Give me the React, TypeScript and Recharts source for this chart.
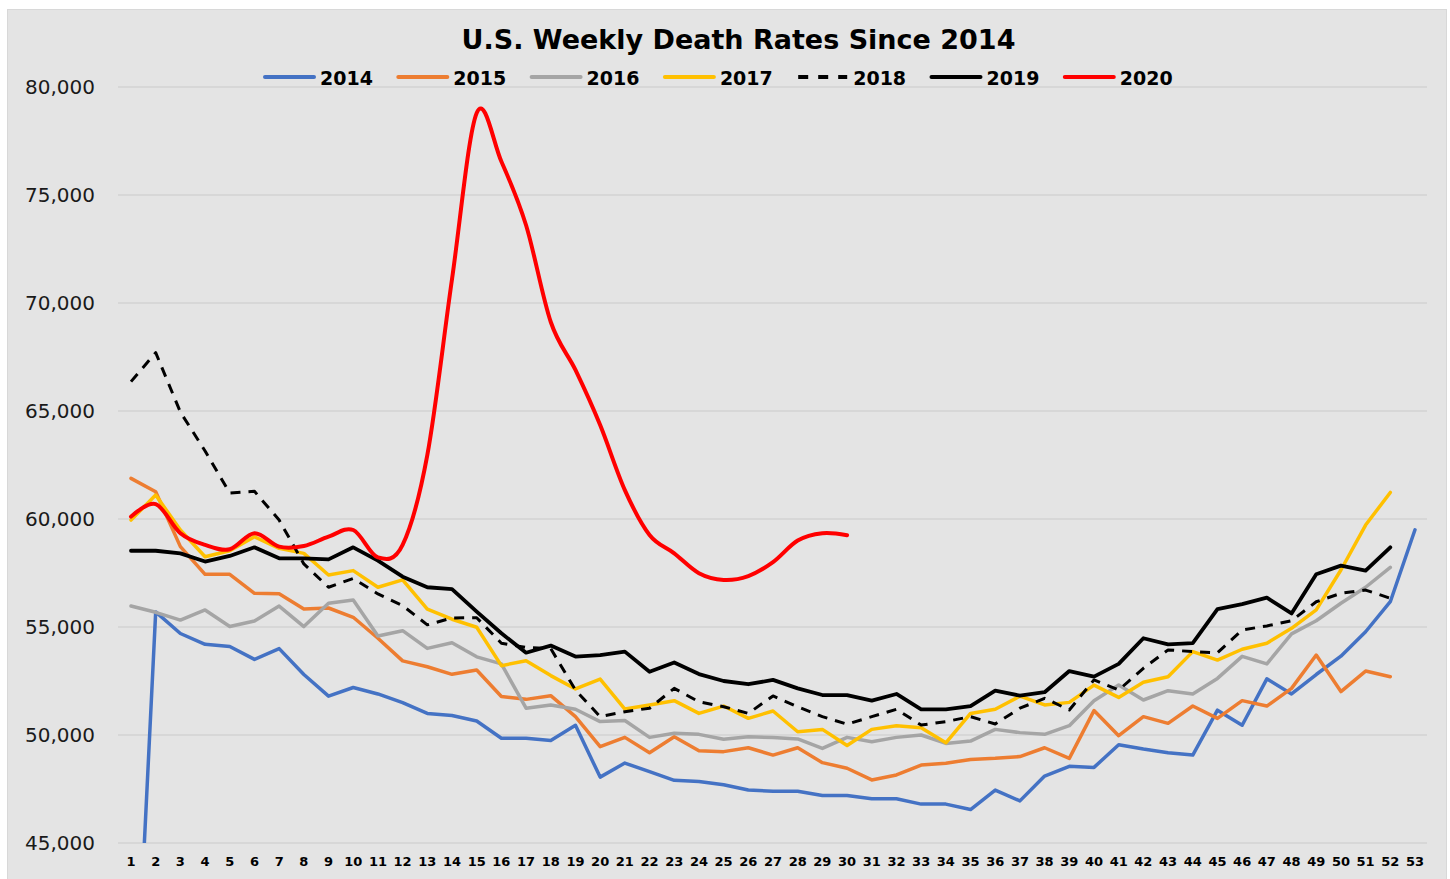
import React from "react";
import { LineChart, Line, XAxis, YAxis, CartesianGrid, Legend } from "recharts";

const weeks = ["1","2","3","4","5","6","7","8","9","10","11","12","13","14","15","16","17","18","19","20","21","22","23","24","25","26","27","28","29","30","31","32","33","34","35","36","37","38","39","40","41","42","43","44","45","46","47","48","49","50","51","52","53"];

const y2014 = [32400, 55700, 54700, 54200, 54100, 53500, 54000, 52800, 51800, 52200, 51900, 51500, 51000, 50900, 50650, 49850, 49850, 49750, 50450, 48050, 48700, 48300, 47900, 47850, 47700, 47450, 47400, 47400, 47200, 47200, 47050, 47050, 46800, 46800, 46550, 47450, 46950, 48100, 48550, 48500, 49550, 49350, 49180, 49070, 51150, 50450, 52600, 51900, 52800, 53650, 54780, 56170, 59500];
const y2015 = [61880, 61260, 58720, 57440, 57440, 56560, 56540, 55830, 55880, 55450, 54480, 53430, 53160, 52810, 53010, 51780, 51650, 51820, 50850, 49460, 49890, 49180, 49920, 49270, 49230, 49410, 49070, 49410, 48720, 48460, 47920, 48150, 48610, 48690, 48870, 48920, 49000, 49410, 48920, 51130, 49970, 50850, 50540, 51340, 50770, 51590, 51340, 52160, 53700, 52010, 52960, 52700, null];
const y2016 = [55970, 55680, 55320, 55790, 55020, 55280, 55970, 55020, 56100, 56250, 54580, 54830, 54010, 54270, 53620, 53290, 51240, 51390, 51190, 50620, 50670, 49890, 50080, 50030, 49800, 49920, 49880, 49820, 49380, 49890, 49690, 49890, 50000, 49610, 49720, 50260, 50110, 50030, 50430, 51590, 52310, 51620, 52050, 51900, 52620, 53640, 53290, 54680, 55290, 56100, 56840, 57760, null];
const y2017 = [59950, 61110, 59490, 58250, 58530, 59180, 58640, 58410, 57410, 57610, 56840, 57180, 55830, 55360, 54990, 53210, 53440, 52750, 52130, 52590, 51200, 51390, 51590, 51000, 51340, 50770, 51110, 50150, 50260, 49510, 50260, 50430, 50340, 49640, 51000, 51190, 51800, 51390, 51510, 52310, 51740, 52440, 52700, 53860, 53470, 53970, 54250, 54940, 55790, 57640, 59720, 61230, null];
const y2018 = [66360, 67700, 64950, 63150, 61200, 61280, 59950, 57920, 56840, 57250, 56530, 55990, 55100, 55420, 55430, 54250, 54050, 54000, 52080, 50850, 51080, 51240, 52160, 51540, 51310, 51000, 51810, 51310, 50850, 50500, 50850, 51190, 50460, 50620, 50850, 50510, 51240, 51700, 51160, 52550, 52080, 53090, 53940, 53860, 53810, 54860, 55050, 55290, 56170, 56560, 56710, 56330, null];
const y2019 = [58530, 58530, 58410, 58030, 58290, 58690, 58180, 58180, 58130, 58690, 58070, 57330, 56840, 56750, 55710, 54710, 53810, 54140, 53630, 53700, 53860, 52930, 53360, 52820, 52500, 52350, 52550, 52160, 51850, 51850, 51590, 51900, 51190, 51190, 51340, 52050, 51820, 51980, 52960, 52700, 53290, 54480, 54200, 54250, 55830, 56060, 56360, 55630, 57440, 57840, 57610, 58690, null];
const y2020 = [60110, 60690, 59340, 58800, 58600, 59340, 58720, 58750, 59180, 59490, 58220, 58800, 62960, 71100, 78800, 76550, 73600, 69120, 66900, 64350, 61340, 59260, 58410, 57490, 57180, 57360, 58000, 59000, 59340, 59250, null, null, null, null, null, null, null, null, null, null, null, null, null, null, null, null, null, null, null, null, null, null, null];

const yTicks = [45000, 50000, 55000, 60000, 65000, 70000, 75000, 80000];

const seriesNames = ["2014", "2015", "2016", "2017", "2018", "2019", "2020"];
const seriesValues = [y2014, y2015, y2016, y2017, y2018, y2019, y2020];
const seriesColors = ["#4472C4", "#ED7D31", "#A5A5A5", "#FFC000", "#000000", "#000000", "#FF0000"];
const seriesDash = [undefined, undefined, undefined, undefined, "10 8", undefined, undefined];
const seriesWidth = [3.5, 3.5, 3.5, 3.5, 3, 3.8, 4];
const seriesSmooth = [false, false, false, false, false, false, true];

const data = weeks.map((w, i) => {
  const row: any = { week: w };
  seriesNames.forEach((n, s) => {
    row[n] = seriesValues[s][i];
  });
  return row;
});

function makeCardinal(tension: number) {
  const k = (1 - tension) / 6;
  return function (context: any) {
    let x0 = NaN, y0 = NaN, x1 = NaN, y1 = NaN, x2 = NaN, y2 = NaN;
    let pt = 0;
    let line: number = NaN;
    const seg = (x: number, y: number) => {
      context.bezierCurveTo(
        x1 + k * (x2 - x0),
        y1 + k * (y2 - y0),
        x2 + k * (x1 - x),
        y2 + k * (y1 - y),
        x2,
        y2
      );
    };
    return {
      areaStart() { line = 0; },
      areaEnd() { line = NaN; },
      lineStart() { x0 = x1 = x2 = y0 = y1 = y2 = NaN; pt = 0; },
      lineEnd() {
        if (pt === 2) context.lineTo(x2, y2);
        else if (pt === 3) seg(x1, y1);
        if (line || (line !== 0 && pt === 1)) context.closePath();
        line = 1 - line;
      },
      point(x: number, y: number) {
        x = +x; y = +y;
        if (pt === 0) {
          pt = 1;
          if (line) context.lineTo(x, y); else context.moveTo(x, y);
        } else if (pt === 1) {
          pt = 2; x1 = x; y1 = y;
        } else {
          pt = 3; seg(x, y);
        }
        x0 = x1; x1 = x2; x2 = x;
        y0 = y1; y1 = y2; y2 = y;
      },
    };
  };
}

const smoothCurve = makeCardinal(0);

const FONT = "'DejaVu Sans', Verdana, sans-serif";

const fmt = (v: number) => v.toLocaleString("en-US");

const renderLegend = (props: any) => {
  const payload = props.payload || [];
  const startX = 265;
  const stride = 133.3;
  return (
    <svg width={1450} height={100} style={{ display: "block" }}>
      {payload.map((entry: any, i: number) => {
        const idx = seriesNames.indexOf(String(entry.value));
        const x = startX + i * stride;
        return (
          <g key={String(entry.value)}>
            <line
              x1={x}
              x2={x + 49}
              y1={77}
              y2={77}
              stroke={seriesColors[idx]}
              strokeWidth={4}
              strokeDasharray={seriesDash[idx] ? "10 10" : undefined}
              strokeLinecap={seriesDash[idx] ? "butt" : "round"}
            />
            <text x={x + 55} y={85} fontFamily={FONT} fontWeight="bold" fontSize={19} fill="#000">
              {entry.value}
            </text>
          </g>
        );
      })}
    </svg>
  );
};

export default function App() {
  return (
    <div style={{ position: "absolute", left: 0, top: 0, width: 1450, height: 879, background: "#ffffff", overflow: "hidden" }}>
      <div style={{ position: "absolute", left: 7, top: 9, width: 1438, height: 880, background: "#e4e4e4", border: "1px solid #d8d8d8" }} />
      <svg style={{ position: "absolute", left: 0, top: 0 }} width={1450} height={70}>
        <text x={738.5} y={49} textAnchor="middle" fontFamily={FONT} fontWeight="bold" fontSize={27} fill="#000">
          U.S. Weekly Death Rates Since 2014
        </text>
      </svg>
      <div style={{ position: "absolute", left: 0, top: 0 }}>
        <LineChart width={1450} height={879} data={data} margin={{ top: 87, right: 23, bottom: 6, left: 18 }}>
          <CartesianGrid horizontal={true} vertical={false} stroke="#d3d3d3" strokeWidth={1.3} />
          <XAxis
            dataKey="week"
            interval={0}
            height={30}
            padding={{ left: 13, right: 12 }}
            tickSize={0}
            tickMargin={14}
            axisLine={false}
            tickLine={false}
            tick={{ fontFamily: FONT, fontWeight: "bold", fontSize: 13, fill: "#000" }}
          />
          <YAxis
            type="number"
            domain={[45000, 80000]}
            ticks={yTicks}
            allowDataOverflow={true}
            width={100}
            tickSize={0}
            tickMargin={23}
            axisLine={false}
            tickLine={false}
            tickFormatter={fmt}
            tick={{ fontFamily: FONT, fontSize: 20, fill: "#1a1a1a" }}
          />
          <Legend
            verticalAlign="middle"
            align="center"
            content={renderLegend}
            wrapperStyle={{ top: 0, left: 0, width: 1450, height: 100 }}
          />
          {seriesNames.map((n, s) => (
            <Line
              key={n}
              dataKey={n}
              name={n}
              type={seriesSmooth[s] ? (smoothCurve as any) : "linear"}
              stroke={seriesColors[s]}
              strokeWidth={seriesWidth[s]}
              strokeDasharray={seriesDash[s]}
              strokeLinejoin="round"
              strokeLinecap={seriesDash[s] ? "butt" : "round"}
              dot={false}
              activeDot={false}
              isAnimationActive={false}
              connectNulls={false}
            />
          ))}
        </LineChart>
      </div>
    </div>
  );
}
